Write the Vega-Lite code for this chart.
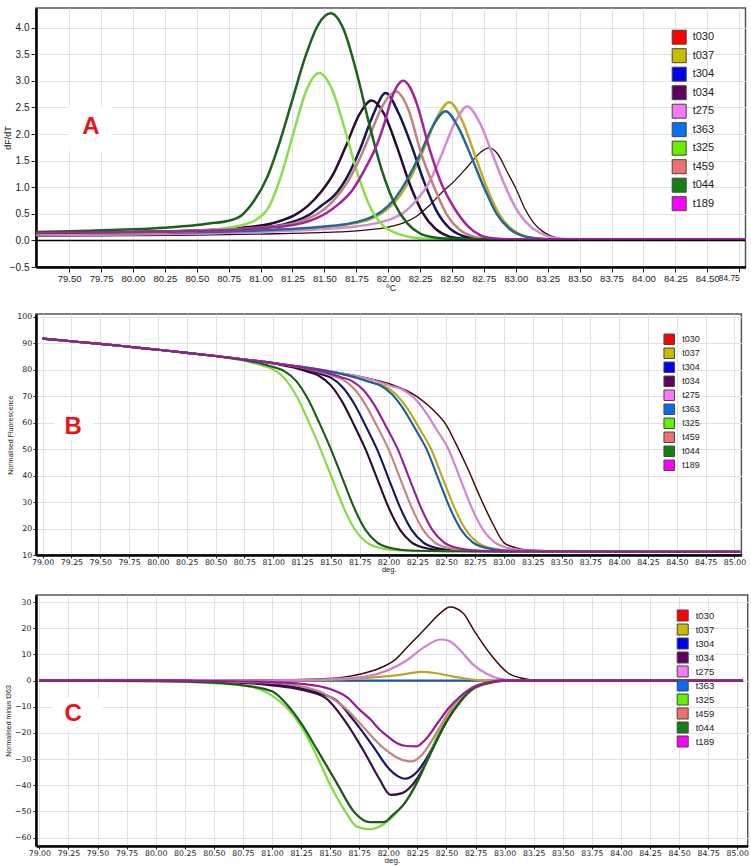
{
"$schema":"https://vega.github.io/schema/vega-lite/v6.json",
"background":"white",
"padding":{"left":2,"top":7,"right":0,"bottom":0},
"config":{"view":{"stroke":"#555","strokeWidth":1.5},"axis":{"gridColor":"#e2e2e2","gridWidth":1,"domainColor":"#000","domainWidth":2.5,"tickColor":"#222","labelColor":"#222","titleColor":"#222","titleFontWeight":"normal","labelOverlap":false}},
"datasets":{
"one":[{"k":1}],
"dA":[
{"s":"t030","t":79.24,"v":0.08},{"s":"t030","t":80.0,"v":0.09},{"s":"t030","t":80.5,"v":0.10},{"s":"t030","t":81.0,"v":0.12},{"s":"t030","t":81.5,"v":0.15},{"s":"t030","t":81.8,"v":0.19},{"s":"t030","t":82.0,"v":0.25},{"s":"t030","t":82.12,"v":0.33},{"s":"t030","t":82.22,"v":0.45},{"s":"t030","t":82.32,"v":0.65},{"s":"t030","t":82.42,"v":0.9},{"s":"t030","t":82.52,"v":1.12},{"s":"t030","t":82.62,"v":1.38},{"s":"t030","t":82.72,"v":1.65},{"s":"t030","t":82.79,"v":1.74},{"s":"t030","t":82.86,"v":1.62},{"s":"t030","t":82.93,"v":1.3},{"s":"t030","t":83.0,"v":0.98},{"s":"t030","t":83.07,"v":0.6},{"s":"t030","t":83.14,"v":0.33},{"s":"t030","t":83.21,"v":0.17},{"s":"t030","t":83.28,"v":0.08},{"s":"t030","t":83.36,"v":0.03},{"s":"t030","t":83.5,"v":0.02},{"s":"t030","t":84.8,"v":0.02},
{"s":"t037","t":79.24,"v":0.12},{"s":"t037","t":79.8,"v":0.13},{"s":"t037","t":80.3,"v":0.145},{"s":"t037","t":80.8,"v":0.17},{"s":"t037","t":81.2,"v":0.2},{"s":"t037","t":81.5,"v":0.25},{"s":"t037","t":81.73,"v":0.32},{"s":"t037","t":81.88,"v":0.42},{"s":"t037","t":81.98,"v":0.56},{"s":"t037","t":82.08,"v":0.8},{"s":"t037","t":82.18,"v":1.2},{"s":"t037","t":82.28,"v":1.72},{"s":"t037","t":82.38,"v":2.3},{"s":"t037","t":82.48,"v":2.6},{"s":"t037","t":82.58,"v":2.25},{"s":"t037","t":82.68,"v":1.6},{"s":"t037","t":82.78,"v":0.95},{"s":"t037","t":82.88,"v":0.45},{"s":"t037","t":82.98,"v":0.19},{"s":"t037","t":83.08,"v":0.07},{"s":"t037","t":83.2,"v":0.03},{"s":"t037","t":83.3,"v":0.02},{"s":"t037","t":84.8,"v":0.02},
{"s":"t304","t":79.24,"v":0.14},{"s":"t304","t":79.5,"v":0.14},{"s":"t304","t":80.0,"v":0.155},{"s":"t304","t":80.4,"v":0.17},{"s":"t304","t":80.7,"v":0.2},{"s":"t304","t":81.0,"v":0.24},{"s":"t304","t":81.18,"v":0.3},{"s":"t304","t":81.28,"v":0.37},{"s":"t304","t":81.38,"v":0.48},{"s":"t304","t":81.48,"v":0.66},{"s":"t304","t":81.58,"v":0.85},{"s":"t304","t":81.68,"v":1.2},{"s":"t304","t":81.78,"v":1.72},{"s":"t304","t":81.88,"v":2.35},{"s":"t304","t":81.98,"v":2.77},{"s":"t304","t":82.08,"v":2.4},{"s":"t304","t":82.18,"v":1.8},{"s":"t304","t":82.28,"v":1.11},{"s":"t304","t":82.38,"v":0.55},{"s":"t304","t":82.48,"v":0.23},{"s":"t304","t":82.58,"v":0.087},{"s":"t304","t":82.68,"v":0.037},{"s":"t304","t":82.8,"v":0.02},{"s":"t304","t":84.8,"v":0.02},
{"s":"t034","t":79.24,"v":0.15},{"s":"t034","t":79.5,"v":0.15},{"s":"t034","t":80.0,"v":0.16},{"s":"t034","t":80.4,"v":0.18},{"s":"t034","t":80.7,"v":0.21},{"s":"t034","t":80.9,"v":0.25},{"s":"t034","t":81.07,"v":0.31},{"s":"t034","t":81.17,"v":0.38},{"s":"t034","t":81.27,"v":0.48},{"s":"t034","t":81.37,"v":0.65},{"s":"t034","t":81.47,"v":0.9},{"s":"t034","t":81.57,"v":1.25},{"s":"t034","t":81.67,"v":1.78},{"s":"t034","t":81.77,"v":2.35},{"s":"t034","t":81.87,"v":2.63},{"s":"t034","t":81.97,"v":2.37},{"s":"t034","t":82.07,"v":1.75},{"s":"t034","t":82.17,"v":1.05},{"s":"t034","t":82.27,"v":0.52},{"s":"t034","t":82.37,"v":0.22},{"s":"t034","t":82.47,"v":0.08},{"s":"t034","t":82.57,"v":0.035},{"s":"t034","t":82.7,"v":0.02},{"s":"t034","t":84.8,"v":0.02},
{"s":"t275","t":79.24,"v":0.1},{"s":"t275","t":80.0,"v":0.11},{"s":"t275","t":80.5,"v":0.13},{"s":"t275","t":81.0,"v":0.16},{"s":"t275","t":81.4,"v":0.2},{"s":"t275","t":81.7,"v":0.25},{"s":"t275","t":81.9,"v":0.32},{"s":"t275","t":82.02,"v":0.4},{"s":"t275","t":82.12,"v":0.52},{"s":"t275","t":82.22,"v":0.75},{"s":"t275","t":82.32,"v":1.08},{"s":"t275","t":82.42,"v":1.62},{"s":"t275","t":82.52,"v":2.2},{"s":"t275","t":82.62,"v":2.52},{"s":"t275","t":82.72,"v":2.2},{"s":"t275","t":82.82,"v":1.6},{"s":"t275","t":82.92,"v":1.0},{"s":"t275","t":83.02,"v":0.53},{"s":"t275","t":83.12,"v":0.25},{"s":"t275","t":83.22,"v":0.11},{"s":"t275","t":83.32,"v":0.04},{"s":"t275","t":83.45,"v":0.02},{"s":"t275","t":84.8,"v":0.02},
{"s":"t363","t":79.24,"v":0.12},{"s":"t363","t":79.8,"v":0.13},{"s":"t363","t":80.3,"v":0.145},{"s":"t363","t":80.8,"v":0.17},{"s":"t363","t":81.2,"v":0.21},{"s":"t363","t":81.5,"v":0.26},{"s":"t363","t":81.7,"v":0.32},{"s":"t363","t":81.85,"v":0.42},{"s":"t363","t":81.95,"v":0.55},{"s":"t363","t":82.05,"v":0.78},{"s":"t363","t":82.15,"v":1.15},{"s":"t363","t":82.25,"v":1.62},{"s":"t363","t":82.35,"v":2.15},{"s":"t363","t":82.45,"v":2.43},{"s":"t363","t":82.55,"v":2.12},{"s":"t363","t":82.65,"v":1.58},{"s":"t363","t":82.75,"v":1.0},{"s":"t363","t":82.85,"v":0.5},{"s":"t363","t":82.95,"v":0.22},{"s":"t363","t":83.05,"v":0.09},{"s":"t363","t":83.15,"v":0.04},{"s":"t363","t":83.3,"v":0.02},{"s":"t363","t":84.8,"v":0.02},
{"s":"t325","t":79.24,"v":0.12},{"s":"t325","t":79.5,"v":0.13},{"s":"t325","t":80.0,"v":0.14},{"s":"t325","t":80.25,"v":0.15},{"s":"t325","t":80.5,"v":0.18},{"s":"t325","t":80.75,"v":0.24},{"s":"t325","t":80.86,"v":0.29},{"s":"t325","t":80.96,"v":0.38},{"s":"t325","t":81.06,"v":0.61},{"s":"t325","t":81.16,"v":1.21},{"s":"t325","t":81.26,"v":2.04},{"s":"t325","t":81.36,"v":2.83},{"s":"t325","t":81.46,"v":3.15},{"s":"t325","t":81.56,"v":2.84},{"s":"t325","t":81.66,"v":2.09},{"s":"t325","t":81.76,"v":1.26},{"s":"t325","t":81.86,"v":0.62},{"s":"t325","t":81.96,"v":0.28},{"s":"t325","t":82.06,"v":0.14},{"s":"t325","t":82.16,"v":0.07},{"s":"t325","t":82.3,"v":0.03},{"s":"t325","t":82.5,"v":0.02},{"s":"t325","t":84.8,"v":0.02},
{"s":"t459","t":79.24,"v":0.13},{"s":"t459","t":79.5,"v":0.135},{"s":"t459","t":80.0,"v":0.15},{"s":"t459","t":80.4,"v":0.17},{"s":"t459","t":80.8,"v":0.21},{"s":"t459","t":81.1,"v":0.26},{"s":"t459","t":81.26,"v":0.32},{"s":"t459","t":81.36,"v":0.4},{"s":"t459","t":81.46,"v":0.52},{"s":"t459","t":81.56,"v":0.72},{"s":"t459","t":81.66,"v":1.02},{"s":"t459","t":81.76,"v":1.45},{"s":"t459","t":81.86,"v":2.0},{"s":"t459","t":81.96,"v":2.55},{"s":"t459","t":82.06,"v":2.8},{"s":"t459","t":82.16,"v":2.45},{"s":"t459","t":82.26,"v":1.62},{"s":"t459","t":82.36,"v":1.0},{"s":"t459","t":82.46,"v":0.48},{"s":"t459","t":82.56,"v":0.2},{"s":"t459","t":82.66,"v":0.08},{"s":"t459","t":82.76,"v":0.035},{"s":"t459","t":82.9,"v":0.02},{"s":"t459","t":84.8,"v":0.02},
{"s":"t044","t":79.24,"v":0.16},{"s":"t044","t":79.5,"v":0.17},{"s":"t044","t":79.75,"v":0.19},{"s":"t044","t":80.0,"v":0.21},{"s":"t044","t":80.25,"v":0.24},{"s":"t044","t":80.5,"v":0.29},{"s":"t044","t":80.6,"v":0.32},{"s":"t044","t":80.75,"v":0.37},{"s":"t044","t":80.85,"v":0.47},{"s":"t044","t":80.95,"v":0.75},{"s":"t044","t":81.05,"v":1.18},{"s":"t044","t":81.15,"v":1.85},{"s":"t044","t":81.25,"v":2.65},{"s":"t044","t":81.35,"v":3.45},{"s":"t044","t":81.45,"v":4.05},{"s":"t044","t":81.55,"v":4.27},{"s":"t044","t":81.65,"v":3.97},{"s":"t044","t":81.75,"v":3.18},{"s":"t044","t":81.85,"v":2.2},{"s":"t044","t":81.95,"v":1.32},{"s":"t044","t":82.05,"v":0.69},{"s":"t044","t":82.15,"v":0.32},{"s":"t044","t":82.25,"v":0.13},{"s":"t044","t":82.35,"v":0.06},{"s":"t044","t":82.5,"v":0.03},{"s":"t044","t":82.7,"v":0.02},{"s":"t044","t":84.8,"v":0.02},
{"s":"t189","t":79.24,"v":0.14},{"s":"t189","t":79.8,"v":0.15},{"s":"t189","t":80.3,"v":0.165},{"s":"t189","t":80.7,"v":0.19},{"s":"t189","t":81.0,"v":0.23},{"s":"t189","t":81.2,"v":0.27},{"s":"t189","t":81.32,"v":0.32},{"s":"t189","t":81.42,"v":0.4},{"s":"t189","t":81.52,"v":0.52},{"s":"t189","t":81.62,"v":0.7},{"s":"t189","t":81.72,"v":0.95},{"s":"t189","t":81.82,"v":1.35},{"s":"t189","t":81.92,"v":1.85},{"s":"t189","t":81.97,"v":2.2},{"s":"t189","t":82.02,"v":2.62},{"s":"t189","t":82.07,"v":2.9},{"s":"t189","t":82.12,"v":3.0},{"s":"t189","t":82.17,"v":2.88},{"s":"t189","t":82.22,"v":2.6},{"s":"t189","t":82.32,"v":1.75},{"s":"t189","t":82.42,"v":1.05},{"s":"t189","t":82.52,"v":0.6},{"s":"t189","t":82.62,"v":0.28},{"s":"t189","t":82.72,"v":0.1},{"s":"t189","t":82.82,"v":0.04},{"s":"t189","t":82.95,"v":0.02},{"s":"t189","t":84.8,"v":0.02}
],
"dB":[
{"s":"t030","t":79.0,"v":91.8},{"s":"t030","t":79.25,"v":90.8},{"s":"t030","t":79.5,"v":89.8},{"s":"t030","t":79.75,"v":88.7},{"s":"t030","t":80.0,"v":87.6},{"s":"t030","t":80.25,"v":86.4},{"s":"t030","t":80.5,"v":85.2},{"s":"t030","t":80.75,"v":83.9},{"s":"t030","t":81.0,"v":82.6},{"s":"t030","t":81.25,"v":81.1},{"s":"t030","t":81.5,"v":79.4},{"s":"t030","t":81.75,"v":77.5},{"s":"t030","t":82.0,"v":74.8},{"s":"t030","t":82.25,"v":69.8},{"s":"t030","t":82.4,"v":64.3},{"s":"t030","t":82.5,"v":59.2},{"s":"t030","t":82.58,"v":52.5},{"s":"t030","t":82.69,"v":42.4},{"s":"t030","t":82.79,"v":32.3},{"s":"t030","t":82.9,"v":22.2},{"s":"t030","t":83.0,"v":14.7},{"s":"t030","t":83.1,"v":12.8},{"s":"t030","t":83.25,"v":11.8},{"s":"t030","t":83.5,"v":11.5},{"s":"t030","t":85.05,"v":11.2},
{"s":"t037","t":79.0,"v":91.8},{"s":"t037","t":79.25,"v":90.8},{"s":"t037","t":79.5,"v":89.8},{"s":"t037","t":79.75,"v":88.7},{"s":"t037","t":80.0,"v":87.6},{"s":"t037","t":80.25,"v":86.4},{"s":"t037","t":80.5,"v":85.2},{"s":"t037","t":80.75,"v":83.9},{"s":"t037","t":81.0,"v":82.6},{"s":"t037","t":81.25,"v":81.1},{"s":"t037","t":81.62,"v":78.24},{"s":"t037","t":81.77,"v":76.64},{"s":"t037","t":81.87,"v":75.14},{"s":"t037","t":81.97,"v":73.77},{"s":"t037","t":82.07,"v":70.48},{"s":"t037","t":82.17,"v":64.94},{"s":"t037","t":82.27,"v":57.66},{"s":"t037","t":82.37,"v":50},{"s":"t037","t":82.47,"v":39},{"s":"t037","t":82.57,"v":28},{"s":"t037","t":82.67,"v":19.5},{"s":"t037","t":82.77,"v":14.8},{"s":"t037","t":82.87,"v":12.8},{"s":"t037","t":82.97,"v":12.0},{"s":"t037","t":83.12,"v":11.6},{"s":"t037","t":83.37,"v":11.4},{"s":"t037","t":85.05,"v":11.2},
{"s":"t304","t":79.0,"v":91.8},{"s":"t304","t":79.25,"v":90.8},{"s":"t304","t":79.5,"v":89.8},{"s":"t304","t":79.75,"v":88.7},{"s":"t304","t":80.0,"v":87.6},{"s":"t304","t":80.25,"v":86.4},{"s":"t304","t":80.5,"v":85.2},{"s":"t304","t":80.75,"v":83.9},{"s":"t304","t":81.0,"v":82.6},{"s":"t304","t":81.15,"v":81.4},{"s":"t304","t":81.3,"v":79.96},{"s":"t304","t":81.4,"v":78.58},{"s":"t304","t":81.5,"v":77.05},{"s":"t304","t":81.6,"v":73.52},{"s":"t304","t":81.7,"v":67.34},{"s":"t304","t":81.8,"v":58.98},{"s":"t304","t":81.9,"v":50},{"s":"t304","t":82.0,"v":39},{"s":"t304","t":82.1,"v":28},{"s":"t304","t":82.2,"v":19.5},{"s":"t304","t":82.3,"v":14.8},{"s":"t304","t":82.4,"v":12.8},{"s":"t304","t":82.5,"v":12.0},{"s":"t304","t":82.65,"v":11.6},{"s":"t304","t":82.9,"v":11.4},{"s":"t304","t":85.05,"v":11.2},
{"s":"t034","t":79.0,"v":91.8},{"s":"t034","t":79.25,"v":90.8},{"s":"t034","t":79.5,"v":89.8},{"s":"t034","t":79.75,"v":88.7},{"s":"t034","t":80.0,"v":87.6},{"s":"t034","t":80.25,"v":86.4},{"s":"t034","t":80.5,"v":85.2},{"s":"t034","t":80.75,"v":83.9},{"s":"t034","t":81.05,"v":82.0},{"s":"t034","t":81.2,"v":80.6},{"s":"t034","t":81.3,"v":79.26},{"s":"t034","t":81.4,"v":77.67},{"s":"t034","t":81.5,"v":74.11},{"s":"t034","t":81.6,"v":67.78},{"s":"t034","t":81.7,"v":59.23},{"s":"t034","t":81.8,"v":50},{"s":"t034","t":81.9,"v":39},{"s":"t034","t":82.0,"v":28},{"s":"t034","t":82.1,"v":19.5},{"s":"t034","t":82.2,"v":14.8},{"s":"t034","t":82.3,"v":12.8},{"s":"t034","t":82.4,"v":12.0},{"s":"t034","t":82.55,"v":11.6},{"s":"t034","t":82.8,"v":11.4},{"s":"t034","t":85.05,"v":11.2},
{"s":"t275","t":79.0,"v":91.8},{"s":"t275","t":79.25,"v":90.8},{"s":"t275","t":79.5,"v":89.8},{"s":"t275","t":79.75,"v":88.7},{"s":"t275","t":80.0,"v":87.6},{"s":"t275","t":80.25,"v":86.4},{"s":"t275","t":80.5,"v":85.2},{"s":"t275","t":80.75,"v":83.9},{"s":"t275","t":81.0,"v":82.6},{"s":"t275","t":81.25,"v":81.1},{"s":"t275","t":81.5,"v":79.4},{"s":"t275","t":81.77,"v":77.14},{"s":"t275","t":81.92,"v":75.44},{"s":"t275","t":82.02,"v":73.92},{"s":"t275","t":82.12,"v":72.58},{"s":"t275","t":82.22,"v":69.4},{"s":"t275","t":82.32,"v":64.09},{"s":"t275","t":82.42,"v":57.18},{"s":"t275","t":82.52,"v":50},{"s":"t275","t":82.62,"v":39},{"s":"t275","t":82.72,"v":28},{"s":"t275","t":82.82,"v":19.5},{"s":"t275","t":82.92,"v":14.8},{"s":"t275","t":83.02,"v":12.8},{"s":"t275","t":83.12,"v":12.0},{"s":"t275","t":83.27,"v":11.6},{"s":"t275","t":83.52,"v":11.4},{"s":"t275","t":85.05,"v":11.2},
{"s":"t363","t":79.0,"v":91.8},{"s":"t363","t":79.25,"v":90.8},{"s":"t363","t":79.5,"v":89.8},{"s":"t363","t":79.75,"v":88.7},{"s":"t363","t":80.0,"v":87.6},{"s":"t363","t":80.25,"v":86.4},{"s":"t363","t":80.5,"v":85.2},{"s":"t363","t":80.75,"v":83.9},{"s":"t363","t":81.0,"v":82.6},{"s":"t363","t":81.25,"v":81.1},{"s":"t363","t":81.58,"v":78.52},{"s":"t363","t":81.73,"v":76.94},{"s":"t363","t":81.83,"v":75.46},{"s":"t363","t":81.93,"v":74.07},{"s":"t363","t":82.03,"v":70.78},{"s":"t363","t":82.13,"v":65.17},{"s":"t363","t":82.23,"v":57.78},{"s":"t363","t":82.33,"v":50},{"s":"t363","t":82.43,"v":39},{"s":"t363","t":82.53,"v":28},{"s":"t363","t":82.63,"v":19.5},{"s":"t363","t":82.73,"v":14.8},{"s":"t363","t":82.83,"v":12.8},{"s":"t363","t":82.93,"v":12.0},{"s":"t363","t":83.08,"v":11.6},{"s":"t363","t":83.33,"v":11.4},{"s":"t363","t":85.05,"v":11.2},
{"s":"t325","t":79.0,"v":91.8},{"s":"t325","t":79.25,"v":90.8},{"s":"t325","t":79.5,"v":89.8},{"s":"t325","t":79.75,"v":88.7},{"s":"t325","t":80.0,"v":87.6},{"s":"t325","t":80.25,"v":86.4},{"s":"t325","t":80.5,"v":85.2},{"s":"t325","t":80.66,"v":84.07},{"s":"t325","t":80.81,"v":82.79},{"s":"t325","t":80.91,"v":81.57},{"s":"t325","t":81.01,"v":79.94},{"s":"t325","t":81.11,"v":76.19},{"s":"t325","t":81.21,"v":69.43},{"s":"t325","t":81.31,"v":60.13},{"s":"t325","t":81.41,"v":50},{"s":"t325","t":81.51,"v":39},{"s":"t325","t":81.61,"v":28},{"s":"t325","t":81.71,"v":19.5},{"s":"t325","t":81.81,"v":14.8},{"s":"t325","t":81.91,"v":12.8},{"s":"t325","t":82.01,"v":12.0},{"s":"t325","t":82.16,"v":11.6},{"s":"t325","t":82.41,"v":11.4},{"s":"t325","t":85.05,"v":11.2},
{"s":"t459","t":79.0,"v":91.8},{"s":"t459","t":79.25,"v":90.8},{"s":"t459","t":79.5,"v":89.8},{"s":"t459","t":79.75,"v":88.7},{"s":"t459","t":80.0,"v":87.6},{"s":"t459","t":80.25,"v":86.4},{"s":"t459","t":80.5,"v":85.2},{"s":"t459","t":80.75,"v":83.9},{"s":"t459","t":81.0,"v":82.6},{"s":"t459","t":81.25,"v":80.8},{"s":"t459","t":81.4,"v":79.28},{"s":"t459","t":81.5,"v":77.9},{"s":"t459","t":81.6,"v":76.39},{"s":"t459","t":81.7,"v":72.93},{"s":"t459","t":81.8,"v":66.86},{"s":"t459","t":81.9,"v":58.71},{"s":"t459","t":82.0,"v":50},{"s":"t459","t":82.1,"v":39},{"s":"t459","t":82.2,"v":28},{"s":"t459","t":82.3,"v":19.5},{"s":"t459","t":82.4,"v":14.8},{"s":"t459","t":82.5,"v":12.8},{"s":"t459","t":82.6,"v":12.0},{"s":"t459","t":82.75,"v":11.6},{"s":"t459","t":83.0,"v":11.4},{"s":"t459","t":85.05,"v":11.2},
{"s":"t044","t":79.0,"v":91.8},{"s":"t044","t":79.25,"v":90.8},{"s":"t044","t":79.5,"v":89.8},{"s":"t044","t":79.75,"v":88.7},{"s":"t044","t":80.0,"v":87.6},{"s":"t044","t":80.25,"v":86.4},{"s":"t044","t":80.5,"v":85.2},{"s":"t044","t":80.75,"v":83.6},{"s":"t044","t":80.9,"v":82.32},{"s":"t044","t":81.0,"v":81.1},{"s":"t044","t":81.1,"v":79.44},{"s":"t044","t":81.2,"v":75.75},{"s":"t044","t":81.3,"v":69.07},{"s":"t044","t":81.4,"v":59.93},{"s":"t044","t":81.5,"v":50},{"s":"t044","t":81.6,"v":39},{"s":"t044","t":81.7,"v":28},{"s":"t044","t":81.8,"v":19.5},{"s":"t044","t":81.9,"v":14.8},{"s":"t044","t":82.0,"v":12.8},{"s":"t044","t":82.1,"v":12.0},{"s":"t044","t":82.25,"v":11.6},{"s":"t044","t":82.5,"v":11.4},{"s":"t044","t":85.05,"v":11.2},
{"s":"t189","t":79.0,"v":91.8},{"s":"t189","t":79.25,"v":90.8},{"s":"t189","t":79.5,"v":89.8},{"s":"t189","t":79.75,"v":88.7},{"s":"t189","t":80.0,"v":87.6},{"s":"t189","t":80.25,"v":86.4},{"s":"t189","t":80.5,"v":85.2},{"s":"t189","t":80.75,"v":83.9},{"s":"t189","t":81.0,"v":82.6},{"s":"t189","t":81.33,"v":80.26},{"s":"t189","t":81.48,"v":78.74},{"s":"t189","t":81.58,"v":77.32},{"s":"t189","t":81.68,"v":75.85},{"s":"t189","t":81.78,"v":72.44},{"s":"t189","t":81.88,"v":66.47},{"s":"t189","t":81.98,"v":58.5},{"s":"t189","t":82.08,"v":50},{"s":"t189","t":82.18,"v":39},{"s":"t189","t":82.28,"v":28},{"s":"t189","t":82.38,"v":19.5},{"s":"t189","t":82.48,"v":14.8},{"s":"t189","t":82.58,"v":12.8},{"s":"t189","t":82.68,"v":12.0},{"s":"t189","t":82.83,"v":11.6},{"s":"t189","t":83.08,"v":11.4},{"s":"t189","t":85.05,"v":11.2}
],
"dC":[
{"s":"t363","t":79.0,"v":0},{"s":"t363","t":85.05,"v":0},
{"s":"t030","t":79.0,"v":0},{"s":"t030","t":80.5,"v":0},{"s":"t030","t":81.0,"v":0.2},{"s":"t030","t":81.4,"v":0.6},{"s":"t030","t":81.6,"v":1.2},{"s":"t030","t":81.8,"v":2.9},{"s":"t030","t":81.92,"v":4.6},{"s":"t030","t":82.06,"v":8.0},{"s":"t030","t":82.17,"v":13.1},{"s":"t030","t":82.31,"v":19.5},{"s":"t030","t":82.45,"v":25.9},{"s":"t030","t":82.53,"v":28.1},{"s":"t030","t":82.64,"v":25.9},{"s":"t030","t":82.74,"v":18.9},{"s":"t030","t":82.88,"v":10.0},{"s":"t030","t":83.03,"v":2.9},{"s":"t030","t":83.16,"v":0.8},{"s":"t030","t":83.3,"v":0},{"s":"t030","t":85.05,"v":0},
{"s":"t037","t":79.0,"v":0},{"s":"t037","t":81.0,"v":0},{"s":"t037","t":81.6,"v":0.5},{"s":"t037","t":81.9,"v":1.3},{"s":"t037","t":82.1,"v":2.2},{"s":"t037","t":82.28,"v":3.3},{"s":"t037","t":82.4,"v":2.9},{"s":"t037","t":82.55,"v":1.6},{"s":"t037","t":82.7,"v":0.5},{"s":"t037","t":82.85,"v":0},{"s":"t037","t":85.05,"v":0},
{"s":"t275","t":79.0,"v":0},{"s":"t275","t":80.75,"v":0},{"s":"t275","t":81.3,"v":0.3},{"s":"t275","t":81.6,"v":0.8},{"s":"t275","t":81.8,"v":1.5},{"s":"t275","t":82.0,"v":4},{"s":"t275","t":82.15,"v":7.5},{"s":"t275","t":82.3,"v":12.5},{"s":"t275","t":82.45,"v":15.7},{"s":"t275","t":82.52,"v":15.2},{"s":"t275","t":82.62,"v":11.5},{"s":"t275","t":82.72,"v":6.5},{"s":"t275","t":82.85,"v":2.5},{"s":"t275","t":82.95,"v":0.8},{"s":"t275","t":83.1,"v":0},{"s":"t275","t":85.05,"v":0},
{"s":"t304","t":79.0,"v":0},{"s":"t304","t":80.0,"v":0},{"s":"t304","t":80.5,"v":-0.3},{"s":"t304","t":81.0,"v":-1.3},{"s":"t304","t":81.25,"v":-3},{"s":"t304","t":81.4,"v":-4.8},{"s":"t304","t":81.55,"v":-7.5},{"s":"t304","t":81.71,"v":-15.6},{"s":"t304","t":81.88,"v":-25.8},{"s":"t304","t":82.0,"v":-33.4},{"s":"t304","t":82.08,"v":-36.5},{"s":"t304","t":82.14,"v":-37.5},{"s":"t304","t":82.25,"v":-34.7},{"s":"t304","t":82.33,"v":-29.6},{"s":"t304","t":82.42,"v":-22},{"s":"t304","t":82.52,"v":-14},{"s":"t304","t":82.62,"v":-7.8},{"s":"t304","t":82.72,"v":-3.3},{"s":"t304","t":82.85,"v":-0.9},{"s":"t304","t":83.0,"v":0},{"s":"t304","t":85.05,"v":0},
{"s":"t034","t":79.0,"v":0},{"s":"t034","t":80.0,"v":0},{"s":"t034","t":80.5,"v":-0.4},{"s":"t034","t":81.0,"v":-1.8},{"s":"t034","t":81.25,"v":-3.5},{"s":"t034","t":81.46,"v":-6.6},{"s":"t034","t":81.63,"v":-15.6},{"s":"t034","t":81.79,"v":-27},{"s":"t034","t":81.92,"v":-37.3},{"s":"t034","t":82.02,"v":-43.7},{"s":"t034","t":82.12,"v":-43},{"s":"t034","t":82.25,"v":-37.3},{"s":"t034","t":82.33,"v":-30.9},{"s":"t034","t":82.42,"v":-22.5},{"s":"t034","t":82.52,"v":-14.3},{"s":"t034","t":82.62,"v":-8},{"s":"t034","t":82.72,"v":-3.4},{"s":"t034","t":82.85,"v":-0.9},{"s":"t034","t":83.0,"v":0},{"s":"t034","t":85.05,"v":0},
{"s":"t325","t":79.0,"v":0},{"s":"t325","t":80.0,"v":-0.2},{"s":"t325","t":80.5,"v":-1.0},{"s":"t325","t":80.8,"v":-2.2},{"s":"t325","t":81.01,"v":-6},{"s":"t325","t":81.13,"v":-10.5},{"s":"t325","t":81.26,"v":-18.1},{"s":"t325","t":81.38,"v":-28.3},{"s":"t325","t":81.5,"v":-39.8},{"s":"t325","t":81.63,"v":-50},{"s":"t325","t":81.73,"v":-55.8},{"s":"t325","t":81.84,"v":-56.8},{"s":"t325","t":81.96,"v":-54.9},{"s":"t325","t":82.08,"v":-50},{"s":"t325","t":82.21,"v":-42.4},{"s":"t325","t":82.33,"v":-30.9},{"s":"t325","t":82.45,"v":-18.1},{"s":"t325","t":82.58,"v":-9.8},{"s":"t325","t":82.7,"v":-4.1},{"s":"t325","t":82.83,"v":-1.5},{"s":"t325","t":82.95,"v":-0.3},{"s":"t325","t":83.1,"v":0},{"s":"t325","t":85.05,"v":0},
{"s":"t459","t":79.0,"v":0},{"s":"t459","t":80.0,"v":0},{"s":"t459","t":80.5,"v":-0.3},{"s":"t459","t":81.0,"v":-0.9},{"s":"t459","t":81.25,"v":-2.2},{"s":"t459","t":81.45,"v":-5},{"s":"t459","t":81.63,"v":-10.5},{"s":"t459","t":81.79,"v":-18},{"s":"t459","t":81.96,"v":-25.8},{"s":"t459","t":82.12,"v":-30.3},{"s":"t459","t":82.2,"v":-30.9},{"s":"t459","t":82.29,"v":-28.3},{"s":"t459","t":82.4,"v":-21},{"s":"t459","t":82.5,"v":-13.5},{"s":"t459","t":82.6,"v":-7.3},{"s":"t459","t":82.7,"v":-3.2},{"s":"t459","t":82.85,"v":-0.8},{"s":"t459","t":83.0,"v":0},{"s":"t459","t":85.05,"v":0},
{"s":"t044","t":79.0,"v":0},{"s":"t044","t":80.0,"v":-0.2},{"s":"t044","t":80.5,"v":-0.8},{"s":"t044","t":80.75,"v":-1.8},{"s":"t044","t":81.0,"v":-4.1},{"s":"t044","t":81.13,"v":-9.2},{"s":"t044","t":81.26,"v":-16.9},{"s":"t044","t":81.38,"v":-25.8},{"s":"t044","t":81.55,"v":-38.6},{"s":"t044","t":81.71,"v":-50.4},{"s":"t044","t":81.84,"v":-54.1},{"s":"t044","t":81.96,"v":-54.1},{"s":"t044","t":82.04,"v":-51.3},{"s":"t044","t":82.14,"v":-46.9},{"s":"t044","t":82.25,"v":-38.6},{"s":"t044","t":82.37,"v":-27},{"s":"t044","t":82.5,"v":-15.6},{"s":"t044","t":82.62,"v":-7.9},{"s":"t044","t":82.74,"v":-2.8},{"s":"t044","t":82.87,"v":-0.9},{"s":"t044","t":83.0,"v":0},{"s":"t044","t":85.05,"v":0},
{"s":"t189","t":79.0,"v":0},{"s":"t189","t":80.0,"v":0},{"s":"t189","t":80.5,"v":-0.2},{"s":"t189","t":81.0,"v":-0.6},{"s":"t189","t":81.25,"v":-1.2},{"s":"t189","t":81.5,"v":-3.2},{"s":"t189","t":81.65,"v":-6.5},{"s":"t189","t":81.75,"v":-11},{"s":"t189","t":81.85,"v":-15},{"s":"t189","t":81.92,"v":-18.5},{"s":"t189","t":82.0,"v":-21.5},{"s":"t189","t":82.08,"v":-24},{"s":"t189","t":82.16,"v":-25},{"s":"t189","t":82.24,"v":-25.1},{"s":"t189","t":82.32,"v":-22.5},{"s":"t189","t":82.42,"v":-16.5},{"s":"t189","t":82.52,"v":-10.5},{"s":"t189","t":82.62,"v":-6},{"s":"t189","t":82.72,"v":-2.8},{"s":"t189","t":82.85,"v":-0.8},{"s":"t189","t":83.0,"v":0},{"s":"t189","t":85.05,"v":0}
],
"samples":[{"s":"t030"},{"s":"t037"},{"s":"t304"},{"s":"t034"},{"s":"t275"},{"s":"t363"},{"s":"t325"},{"s":"t459"},{"s":"t044"},{"s":"t189"}]
},
"spacing":19,
"vconcat":[
{
"width":709.5,"height":259,
"resolve":{"scale":{"color":"independent"},"legend":{"color":"independent"}},
"layer":[
{"data":{"name":"dA"},"mark":{"type":"line","interpolate":"monotone","clip":true},
"encoding":{
"x":{"field":"t","type":"quantitative","scale":{"domain":[79.24,84.8],"nice":false,"zero":false},
"axis":{"title":"ºC","values":[79.5,79.75,80,80.25,80.5,80.75,81,81.25,81.5,81.75,82,82.25,82.5,82.75,83,83.25,83.5,83.75,84,84.25,84.5,84.75],"tickCount":40,"labelOverlap":false,"format":".2f","labelFont":"Liberation Sans","labelFontSize":{"condition":{"test":"datum.value > 84.6","value":8.3},"value":9.5},"tickSize":5,"labelPadding":1.5,"titleFont":"Liberation Sans","titleFontSize":9,"titlePadding":0,"labelFlush":10,"labelFlushOffset":0}},
"y":{"field":"v","type":"quantitative","scale":{"domain":[-0.5,4.37],"nice":false,"zero":false},
"axis":{"title":"dF/dT","values":[-0.5,0,0.5,1,1.5,2,2.5,3,3.5,4],"tickCount":40,"labelOverlap":false,"format":".1f","labelFont":"Liberation Sans","labelFontSize":10,"tickSize":5,"labelPadding":2,"minExtent":24,"maxExtent":24,"titleFont":"Liberation Sans","titleFontSize":9,"titlePadding":0}},
"color":{"field":"s","type":"nominal","scale":{"domain":["t030","t037","t304","t034","t275","t363","t325","t459","t044","t189"],"range":["#3a0a0a","#c0ac20","#141850","#2a0c30","#d48ad4","#1f6a96","#86e048","#c48080","#1a621a","#a4229e"]},"legend":null},
"strokeWidth":{"condition":{"test":"datum.s === 't030'","value":1.3},"value":2.5}
}},
{"data":{"name":"one"},"mark":{"type":"rule","color":"#000","strokeWidth":1.5},"encoding":{"y":{"datum":0,"type":"quantitative"}}},
{"data":{"name":"one"},"mark":{"type":"rect","color":"white"},"encoding":{"x":{"datum":79.5,"type":"quantitative"},"x2":{"datum":79.83},"y":{"datum":2.53,"type":"quantitative"},"y2":{"datum":1.68}}},
{"data":{"name":"one"},"mark":{"type":"text","text":"A","color":"#ee1111","font":"Liberation Sans","fontSize":24,"fontWeight":"bold"},"encoding":{"x":{"datum":79.67,"type":"quantitative"},"y":{"datum":2.13,"type":"quantitative"}}},
{"data":{"name":"samples"},"mark":{"type":"point","filled":true,"opacity":0},
"encoding":{"x":{"datum":84.0,"type":"quantitative"},"y":{"datum":2.0,"type":"quantitative"},"color":{"field":"s","type":"nominal","scale":{"domain":["t030","t037","t304","t034","t275","t363","t325","t459","t044","t189"],"range":["#ff0000","#c8bc00","#0000f0","#600060","#f878f8","#0a6ef0","#66f000","#f07070","#128012","#ff00ff"]},
"legend":{"title":null,"orient":"none","legendX":635.7,"legendY":21.7,"padding":0,"symbolType":"square","symbolSize":196,"symbolOpacity":1,"symbolStrokeColor":"#444","symbolStrokeWidth":1,"labelFont":"Liberation Sans","labelFontSize":11,"labelColor":"#222","labelOffset":6,"rowPadding":-0.5}}}}
]
},
{
"width":705.4,"height":241,
"resolve":{"scale":{"color":"independent"},"legend":{"color":"independent"}},
"layer":[
{"data":{"name":"dB"},"mark":{"type":"line","interpolate":"monotone","clip":true},
"encoding":{
"x":{"field":"t","type":"quantitative","scale":{"domain":[78.943,85.06],"nice":false,"zero":false},
"axis":{"title":"deg.","values":[79,79.25,79.5,79.75,80,80.25,80.5,80.75,81,81.25,81.5,81.75,82,82.25,82.5,82.75,83,83.25,83.5,83.75,84,84.25,84.5,84.75,85],"tickCount":40,"labelOverlap":false,"format":".2f","labelFont":"DejaVu Sans","labelFontSize":7.8,"tickSize":3,"labelPadding":0,"titleFont":"Liberation Sans","titleFontSize":7.5,"titlePadding":0}},
"y":{"field":"v","type":"quantitative","scale":{"domain":[10,101.1],"nice":false,"zero":false},
"axis":{"title":"Normalised Fluorescence","values":[10,20,30,40,50,60,70,80,90,100],"tickCount":40,"labelOverlap":false,"labelFont":"DejaVu Sans","labelFontSize":7.8,"tickSize":3,"labelPadding":1.3,"minExtent":20,"maxExtent":20,"titleFont":"Liberation Sans","titleFontSize":7,"titlePadding":2.7}},
"color":{"field":"s","type":"nominal","scale":{"domain":["t030","t037","t304","t034","t275","t363","t325","t459","t044","t189"],"range":["#4a0a0a","#b8a820","#151560","#2a0a2e","#d080d8","#1a6090","#80dd3a","#c88080","#1a5a1a","#9a1a9a"]},"legend":null},
"strokeWidth":{"condition":{"test":"datum.s === 't030'","value":1.5},"value":2.1}
}},
{"data":{"name":"one"},"mark":{"type":"rect","color":"white"},"encoding":{"x":{"datum":79.1,"type":"quantitative"},"x2":{"datum":79.44},"y":{"datum":63.7,"type":"quantitative"},"y2":{"datum":53.5}}},
{"data":{"name":"one"},"mark":{"type":"text","text":"B","color":"#ee1111","font":"Liberation Sans","fontSize":24,"fontWeight":"bold"},"encoding":{"x":{"datum":79.265,"type":"quantitative"},"y":{"datum":58.4,"type":"quantitative"}}},
{"data":{"name":"samples"},"mark":{"type":"point","filled":true,"opacity":0},
"encoding":{"x":{"datum":84.0,"type":"quantitative"},"y":{"datum":50,"type":"quantitative"},"color":{"field":"s","type":"nominal","scale":{"domain":["t030","t037","t304","t034","t275","t363","t325","t459","t044","t189"],"range":["#ff0000","#c8bc00","#0000f0","#600060","#f878f8","#0a6ef0","#66f000","#f07070","#128012","#ff00ff"]},
"legend":{"title":null,"orient":"none","legendX":627.2,"legendY":19.3,"padding":0,"symbolType":"square","symbolSize":110,"symbolOpacity":1,"symbolStrokeColor":"#444","symbolStrokeWidth":1,"labelFont":"Liberation Sans","labelFontSize":9,"labelColor":"#222","labelOffset":7,"rowPadding":-5}}}}
]
},
{
"width":711.7,"height":251,
"resolve":{"scale":{"color":"independent"},"legend":{"color":"independent"}},
"layer":[
{"data":{"name":"dC"},"mark":{"type":"line","interpolate":"monotone","clip":true},
"encoding":{
"x":{"field":"t","type":"quantitative","scale":{"domain":[78.971,85.09],"nice":false,"zero":false},
"axis":{"title":"deg.","values":[79,79.25,79.5,79.75,80,80.25,80.5,80.75,81,81.25,81.5,81.75,82,82.25,82.5,82.75,83,83.25,83.5,83.75,84,84.25,84.5,84.75,85],"tickCount":40,"labelOverlap":false,"format":".2f","labelFont":"DejaVu Sans","labelFontSize":7.8,"tickSize":3,"labelPadding":0,"titleFont":"Liberation Sans","titleFontSize":8,"titlePadding":0}},
"y":{"field":"v","type":"quantitative","scale":{"domain":[-63.2,32.7],"nice":false,"zero":false},
"axis":{"title":"Normalised minus t363","values":[-60,-50,-40,-30,-20,-10,0,10,20,30],"tickCount":40,"labelOverlap":false,"labelFont":"DejaVu Sans","labelFontSize":7.8,"tickSize":3,"labelPadding":2,"minExtent":19,"maxExtent":19,"titleFont":"Liberation Sans","titleFontSize":7,"titlePadding":5.6}},
"color":{"field":"s","type":"nominal","scale":{"domain":["t030","t037","t304","t034","t275","t363","t325","t459","t044","t189"],"range":["#3c0a0a","#b8a820","#16166a","#3a1040","#d080d8","#2050b0","#80dd3a","#c88080","#1a5a1a","#9a1a9a"]},"legend":null},
"strokeWidth":{"condition":{"test":"datum.s === 't030'","value":1.5},"value":2.2}
}},
{"data":{"name":"one"},"mark":{"type":"rect","color":"white"},"encoding":{"x":{"datum":79.115,"type":"quantitative"},"x2":{"datum":79.544},"y":{"datum":-6.65,"type":"quantitative"},"y2":{"datum":-19.26}}},
{"data":{"name":"one"},"mark":{"type":"text","text":"C","color":"#ee1111","font":"Liberation Sans","fontSize":24,"fontWeight":"bold"},"encoding":{"x":{"datum":79.29,"type":"quantitative"},"y":{"datum":-12.8,"type":"quantitative"}}},
{"data":{"name":"samples"},"mark":{"type":"point","filled":true,"opacity":0},
"encoding":{"x":{"datum":84.0,"type":"quantitative"},"y":{"datum":0,"type":"quantitative"},"color":{"field":"s","type":"nominal","scale":{"domain":["t030","t037","t304","t034","t275","t363","t325","t459","t044","t189"],"range":["#ff0000","#c8bc00","#0000f0","#600060","#f878f8","#0a6ef0","#66f000","#f07070","#128012","#ff00ff"]},
"legend":{"title":null,"orient":"none","legendX":640.7,"legendY":14.5,"padding":0,"symbolType":"square","symbolSize":121,"symbolOpacity":1,"symbolStrokeColor":"#444","symbolStrokeWidth":1,"labelFont":"Liberation Sans","labelFontSize":9.5,"labelColor":"#222","labelOffset":7,"rowPadding":-3.3}}}}
]
}
]
}
